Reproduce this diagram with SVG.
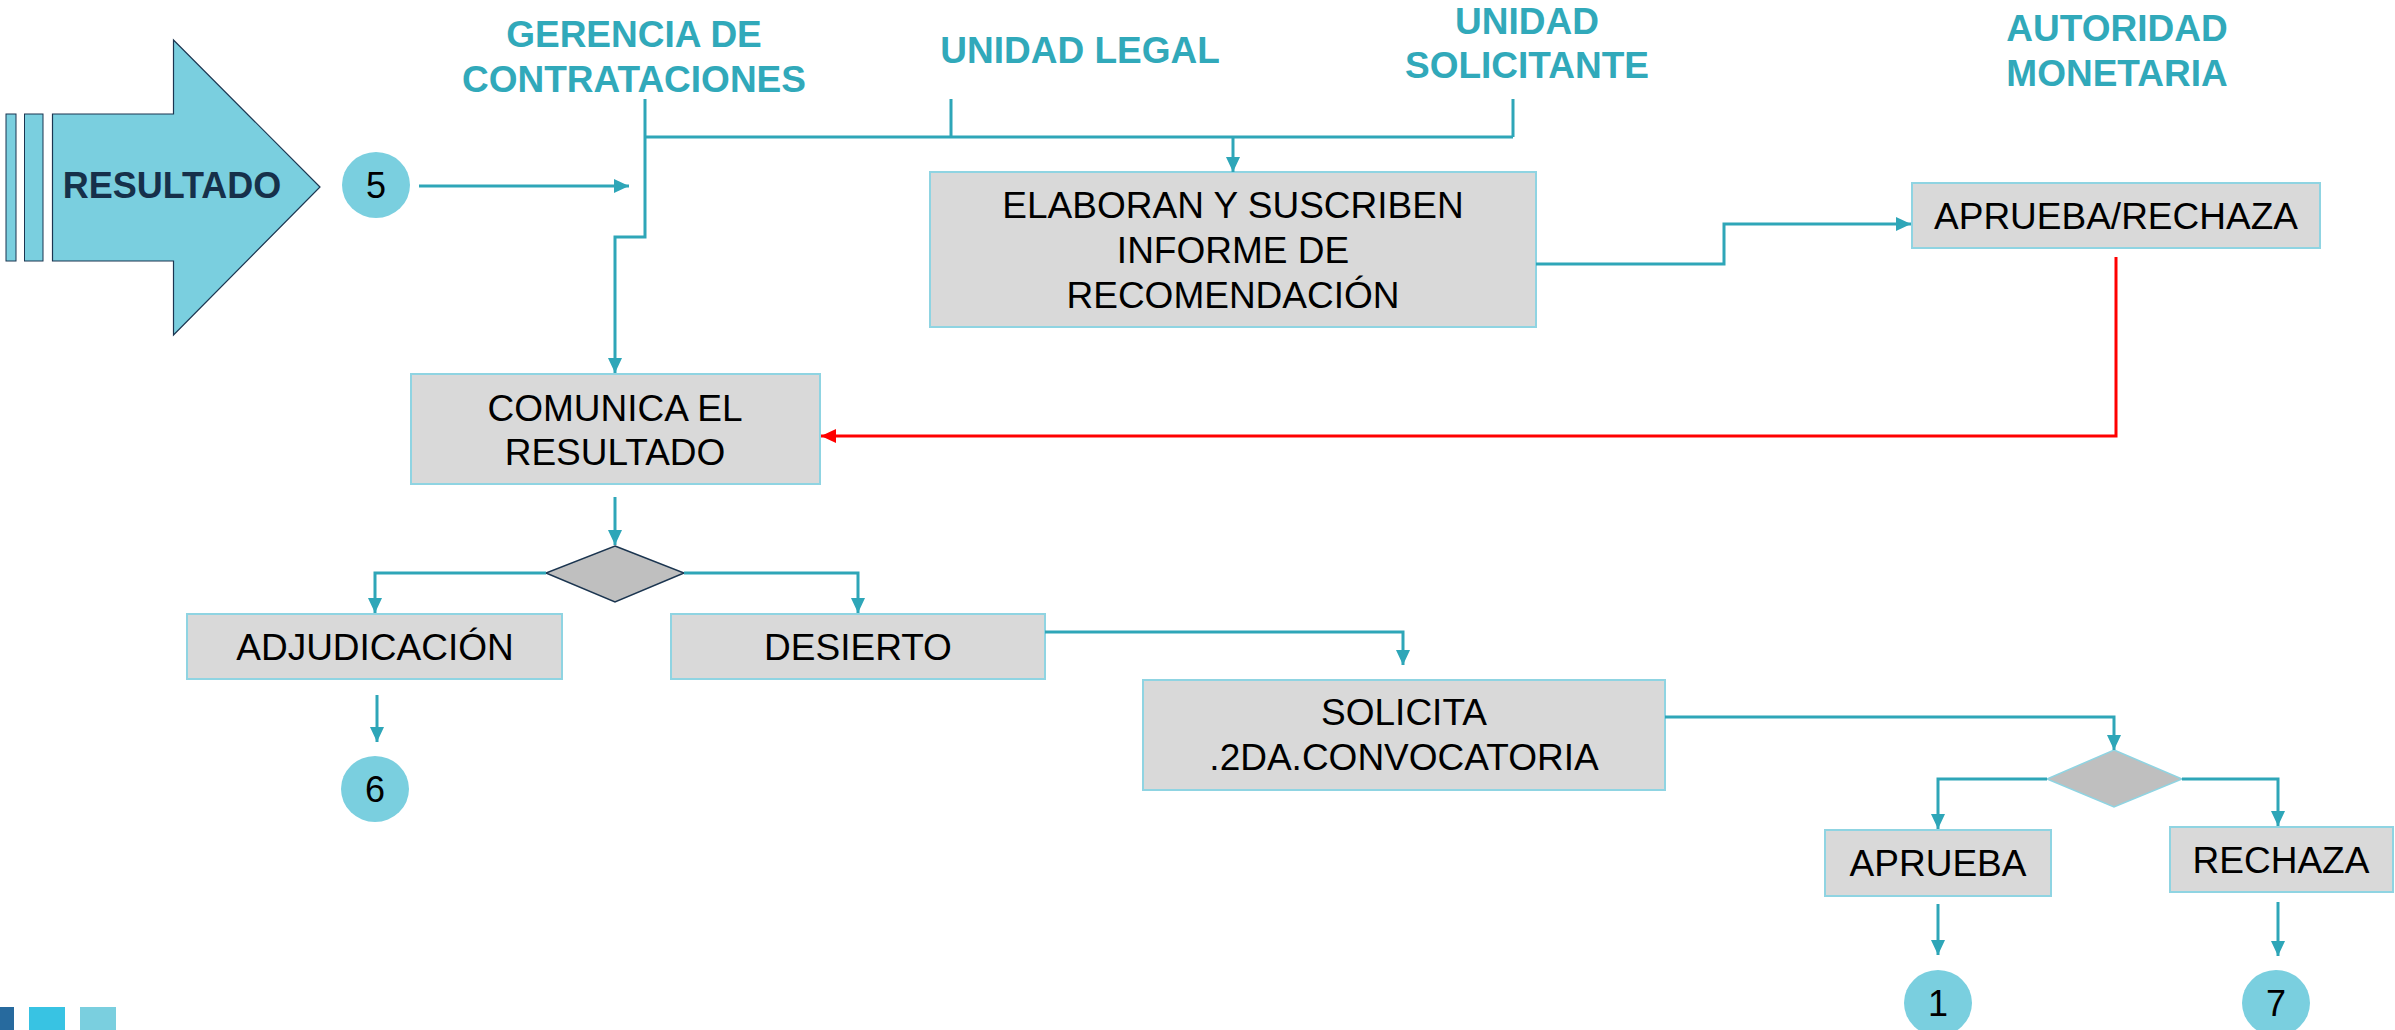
<svg xmlns="http://www.w3.org/2000/svg" width="2395" height="1030" viewBox="0 0 2395 1030">
<defs>
<style>
.box{fill:#D9D9D9;stroke:#8FD4E2;stroke-width:2}
.btxt{font-family:"Liberation Sans",Arial,sans-serif;font-size:37px;fill:#000;text-anchor:middle}
.head{font-family:"Liberation Sans",Arial,sans-serif;font-size:37px;font-weight:bold;fill:#31A9BA;text-anchor:middle}
.circ{fill:#7ACFDF}
.ctxt{font-family:"Liberation Sans",Arial,sans-serif;font-size:36px;fill:#000;text-anchor:middle}
.con{fill:none;stroke:#2EA6B8;stroke-width:3}
.red{fill:none;stroke:#FF0000;stroke-width:3}
.dia{fill:#BFBFBF}
</style>
<marker id="ah" markerUnits="userSpaceOnUse" markerWidth="16" markerHeight="14" refX="15" refY="7" orient="auto">
<path d="M0,0 L15,7 L0,14 Z" fill="#2EA6B8"/>
</marker>
<marker id="ahr" markerUnits="userSpaceOnUse" markerWidth="16" markerHeight="14" refX="15" refY="7" orient="auto">
<path d="M0,0 L15,7 L0,14 Z" fill="#FF0000"/>
</marker>
</defs>
<rect width="2395" height="1030" fill="#FFFFFF"/>

<g id="headers">
<text class="head" x="634" y="47">GERENCIA DE</text>
<text class="head" x="634" y="92">CONTRATACIONES</text>
<text class="head" x="1080" y="63">UNIDAD LEGAL</text>
<text class="head" x="1527" y="34">UNIDAD</text>
<text class="head" x="1527" y="78">SOLICITANTE</text>
<text class="head" x="2117" y="41">AUTORIDAD</text>
<text class="head" x="2117" y="86">MONETARIA</text>
</g>

<g id="resultado">
<rect x="6" y="114" width="10" height="147" fill="#7ACFDF" stroke="#1B3550" stroke-width="1"/>
<rect x="24.5" y="114" width="18.5" height="147" fill="#7ACFDF" stroke="#1B3550" stroke-width="1"/>
<polygon points="52.5,114 173.5,114 173.5,40 320,187 173.5,335 173.5,261 52.5,261" fill="#7ACFDF" stroke="#1B3550" stroke-width="1.2"/>
<text x="172" y="198" font-family="Liberation Sans,Arial,sans-serif" font-size="36" font-weight="bold" fill="#16304A" text-anchor="middle">RESULTADO</text>
</g>

<g id="c5"><ellipse class="circ" cx="376" cy="185" rx="34" ry="33"/><text class="ctxt" x="376" y="198">5</text></g>

<g id="elaboran"><rect class="box" x="930" y="172" width="606" height="155"/>
<text class="btxt" x="1233" y="218">ELABORAN Y SUSCRIBEN</text>
<text class="btxt" x="1233" y="263">INFORME DE</text>
<text class="btxt" x="1233" y="308">RECOMENDACIÓN</text></g>

<g id="aprueba_rechaza"><rect class="box" x="1912" y="183" width="408" height="65"/>
<text class="btxt" x="2116" y="229">APRUEBA/RECHAZA</text></g>

<g id="comunica"><rect class="box" x="411" y="374" width="409" height="110"/>
<text class="btxt" x="615" y="421">COMUNICA EL</text>
<text class="btxt" x="615" y="465">RESULTADO</text></g>

<g id="decision1"><polygon class="dia" points="615,546 684,573 615,602 546,573" stroke="#1B3550" stroke-width="1.5"/></g>

<g id="adjudicacion"><rect class="box" x="187" y="614" width="375" height="65"/>
<text class="btxt" x="375" y="660">ADJUDICACIÓN</text></g>

<g id="desierto"><rect class="box" x="671" y="614" width="374" height="65"/>
<text class="btxt" x="858" y="660">DESIERTO</text></g>

<g id="c6"><ellipse class="circ" cx="375" cy="789" rx="34" ry="33"/><text class="ctxt" x="375" y="802">6</text></g>

<g id="solicita"><rect class="box" x="1143" y="680" width="522" height="110"/>
<text class="btxt" x="1404" y="725">SOLICITA</text>
<text class="btxt" x="1404" y="770">.2DA.CONVOCATORIA</text></g>

<g id="decision2"><polygon class="dia" points="2114,750 2182,779 2114,807 2047,779" stroke="#8FD4E2" stroke-width="1.5"/></g>

<g id="aprueba"><rect class="box" x="1825" y="830" width="226" height="66"/>
<text class="btxt" x="1938" y="876">APRUEBA</text></g>

<g id="rechaza"><rect class="box" x="2170" y="827" width="223" height="65"/>
<text class="btxt" x="2281" y="873">RECHAZA</text></g>

<g id="c1"><ellipse class="circ" cx="1938" cy="1003" rx="34" ry="33"/><text class="ctxt" x="1938" y="1016">1</text></g>
<g id="c7"><ellipse class="circ" cx="2276" cy="1003" rx="34" ry="33"/><text class="ctxt" x="2276" y="1016">7</text></g>

<g id="connectors">
<path class="con" d="M419,186 H629" marker-end="url(#ah)"/>
<path class="con" d="M645,99 V237 H615 V373" marker-end="url(#ah)"/>
<path class="con" d="M645,137 H1513 M951,99 V137 M1513,99 V137"/>
<path class="con" d="M1233,137 V172" marker-end="url(#ah)"/>
<path class="con" d="M1536,264 H1724 V224 H1911" marker-end="url(#ah)"/>
<path class="red" d="M2116,257 V436 H821" marker-end="url(#ahr)"/>
<path class="con" d="M615,497 V545" marker-end="url(#ah)"/>
<path class="con" d="M546,573 H375 V613" marker-end="url(#ah)"/>
<path class="con" d="M684,573 H858 V613" marker-end="url(#ah)"/>
<path class="con" d="M377,695 V742" marker-end="url(#ah)"/>
<path class="con" d="M1045,632 H1403 V665" marker-end="url(#ah)"/>
<path class="con" d="M1665,717 H2114 V750" marker-end="url(#ah)"/>
<path class="con" d="M2047,779 H1938 V829" marker-end="url(#ah)"/>
<path class="con" d="M2182,779 H2278 V826" marker-end="url(#ah)"/>
<path class="con" d="M1938,904 V955" marker-end="url(#ah)"/>
<path class="con" d="M2278,902 V956" marker-end="url(#ah)"/>
</g>

<g id="footer">
<rect x="0" y="1007" width="14" height="23" fill="#276A9E"/>
<rect x="29" y="1007" width="36" height="23" fill="#38C3E3"/>
<rect x="80" y="1007" width="36" height="23" fill="#7ACFDF"/>
</g>
</svg>
